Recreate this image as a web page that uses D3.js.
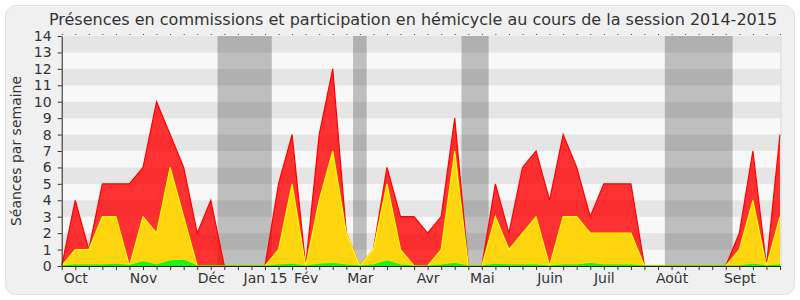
<!DOCTYPE html>
<html>
<head>
<meta charset="utf-8">
<script src="https://cdn.jsdelivr.net/npm/d3@7"></script>
<style>
  body { margin: 0; background: #fff; }
  text { font-family: "DejaVu Sans", sans-serif; }
</style>
</head>
<body>
<script>
const width = 800;
const height = 300;

// one value per week, session 2014-2015
const presences = [0, 4, 1, 5, 5, 5, 6, 10, 8, 6, 2, 4, 0, 0, 0, 0, 5, 8, 0, 8, 12, 2, 0, 1, 6, 3, 3, 2, 3, 9,
  0, 0, 5, 2, 6, 7, 4, 8, 6, 3, 5, 5, 5, 0, 0, 0, 0, 0, 0, 0, 2, 7, 0, 8];
const hemicycle = [0, 1, 1, 3, 3, 0, 3, 2, 6, 3, 0, 0, 0, 0, 0, 0, 1, 5, 0, 4, 7, 2, 0, 1, 5, 1, 0, 0, 1, 7,
  0, 0, 3, 1, 2, 3, 0, 3, 3, 2, 2, 2, 2, 0, 0, 0, 0, 0, 0, 0, 1, 4, 0, 3];
const interventions = [0, 0.05, 0.05, 0.05, 0.1, 0.02, 0.25, 0.05, 0.3, 0.35, 0, 0, 0, 0, 0, 0, 0.05, 0.1, 0, 0.1,
  0.15, 0.05, 0, 0.05, 0.3, 0.05, 0, 0, 0.05, 0.15, 0, 0, 0.1, 0.05, 0.05, 0.05, 0, 0.05, 0.05, 0.15,
  0.05, 0.05, 0.05, 0, 0, 0, 0, 0, 0, 0, 0, 0.1, 0, 0.05];

const monthLabels = ["Oct", "Nov", "Déc", "Jan 15", "Fév", "Mar", "Avr", "Mai", "Juin", "Juil", "Août", "Sept"];
const monthWeeks = [1, 6, 11, 15, 18, 22, 27, 31, 36, 40, 45, 50];

// parliamentary holidays, in weeks
const holidays = [[11.5, 15.5], [21.5, 22.5], [29.5, 31.5], [44.5, 49.5]];

const margin = { top: 36, right: 20, bottom: 34, left: 61.7 };

const svg = d3.select("body").append("svg")
  .attr("width", width)
  .attr("height", height);

svg.append("rect")
  .attr("x", 5.5).attr("y", 5.5)
  .attr("width", 789).attr("height", 289)
  .attr("rx", 10)
  .attr("fill", "#f0f0f0")
  .attr("stroke", "#e0e0e0");

const x = d3.scaleLinear()
  .domain([0, presences.length - 1])
  .range([margin.left, 780]);
const y = d3.scaleLinear()
  .domain([0, 14])
  .range([height - margin.bottom, margin.top]);

// stripes
svg.append("g")
  .selectAll("rect")
  .data(d3.range(14))
  .enter()
  .append("rect")
  .attr("x", x.range()[0])
  .attr("y", (d) => y(d + 1))
  .attr("width", 781 - x.range()[0])
  .attr("height", (d) => y(d) - y(d + 1))
  .attr("fill", (d) => (d % 2 ? "#e5e5e5" : "#f8f8f8"));

svg.append("g")
  .selectAll("rect")
  .data(holidays)
  .enter()
  .append("rect")
  .attr("x", (d) => x(d[0]))
  .attr("y", y(14))
  .attr("width", (d) => x(d[1]) - x(d[0]))
  .attr("height", y(0) - y(14))
  .attr("fill", "rgba(0,0,0,0.23)");

const series = [
  { values: presences, fill: "rgba(255,0,0,0.8)", stroke: "#ff0000" },
  { values: hemicycle, fill: "#ffd50f", stroke: "#ffff00" },
  { values: interventions, fill: "#22ee22", stroke: "#00ff00" },
];

const area = d3.area()
  .x((d, i) => x(i))
  .y0(y(0))
  .y1((d) => y(d));
const line = d3.line()
  .x((d, i) => x(i))
  .y((d) => y(d));

series.forEach(function (s) {
  svg.append("path")
    .attr("d", area(s.values))
    .attr("fill", s.fill);
  svg.append("path")
    .attr("d", line(s.values))
    .attr("fill", "none")
    .attr("stroke", s.stroke)
    .attr("stroke-width", 1.2);
});

// axes
const xAxis = svg.append("g")
  .attr("transform", "translate(0," + y(0) + ")")
  .call(
    d3.axisBottom(x)
      .tickValues(d3.range(presences.length))
      .tickSize(4)
      .tickSizeOuter(0)
      .tickPadding(3)
      .tickFormat((i) => {
        const k = monthWeeks.indexOf(i);
        return k >= 0 ? monthLabels[k] : "";
      })
  );
xAxis.selectAll("text").attr("font-size", "14px").attr("fill", "#333").style("font-family", "DejaVu Sans");
xAxis.selectAll("line").attr("stroke", "#333");
xAxis.select(".domain").attr("stroke", "#222");

const topAxis = svg.append("g")
  .attr("transform", "translate(0," + (y(14) - 1) + ")")
  .call(d3.axisTop(x).tickValues(d3.range(presences.length)).tickSize(1).tickFormat(""));
topAxis.select(".domain").remove();
topAxis.selectAll("line").attr("stroke", "#444");

const yAxis = svg.append("g")
  .attr("transform", "translate(" + x.range()[0] + ",0)")
  .call(d3.axisLeft(y).ticks(14).tickSize(4).tickSizeOuter(0).tickPadding(6));
yAxis.selectAll("text").attr("font-size", "14px").attr("fill", "#333").style("font-family", "DejaVu Sans");
yAxis.selectAll("line").attr("stroke", "#333");
yAxis.select(".domain").attr("stroke", "#222");

svg.append("line")
  .attr("x1", 781).attr("x2", 781)
  .attr("y1", y(14)).attr("y2", y(0))
  .attr("stroke", "#d8d8d8");

svg.append("text")
  .attr("transform", "translate(21," + (y(7)) + ") rotate(-90)")
  .attr("text-anchor", "middle")
  .attr("font-size", "14px")
  .attr("fill", "#333")
  .text("Séances par semaine");

svg.append("text")
  .attr("x", 413)
  .attr("y", 25)
  .attr("text-anchor", "middle")
  .attr("font-size", "16px")
  .attr("fill", "#333")
  .text("Présences en commissions et participation en hémicycle au cours de la session 2014-2015");
</script>
</body>
</html>
